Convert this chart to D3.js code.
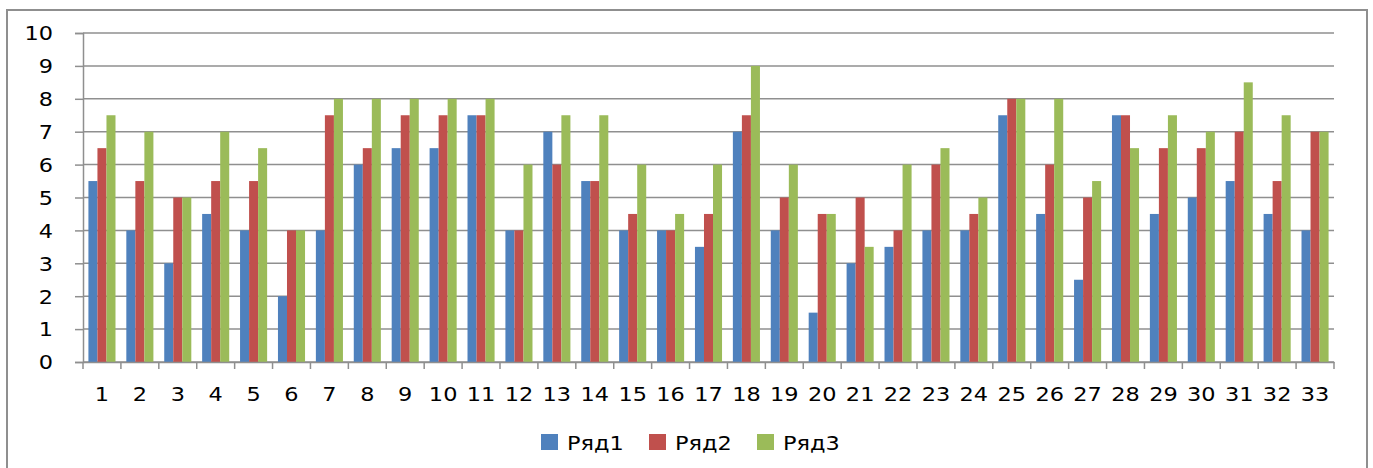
<!DOCTYPE html>
<html>
<head>
<meta charset="utf-8">
<script src="https://cdn.jsdelivr.net/npm/d3@7"></script>
<style>
  body { margin: 0; background: #fff; }
  svg { display: block; }
  .axis text { font-family: "DejaVu Sans", sans-serif; font-size: 19px; fill: #000; }
  .legend-text { font-family: "DejaVu Sans", sans-serif; font-size: 19px; fill: #000; }
</style>
</head>
<body>
<div id="chart"></div>
<script>
// data
let categories = d3.range(1, 34).map(String)
let seriesNames = ["Ряд1", "Ряд2", "Ряд3"]
let row1 = [5.5, 4, 3, 4.5, 4, 2, 4, 6, 6.5, 6.5, 7.5, 4, 7, 5.5, 4, 4, 3.5, 7, 4, 1.5, 3, 3.5, 4, 4, 7.5, 4.5, 2.5, 7.5, 4.5, 5, 5.5, 4.5, 4]
let row2 = [6.5, 5.5, 5, 5.5, 5.5, 4, 7.5, 6.5, 7.5, 7.5, 7.5, 4, 6, 5.5, 4.5, 4, 4.5, 7.5, 5, 4.5, 5, 4, 6, 4.5, 8, 6, 5, 7.5, 6.5, 6.5, 7, 5.5, 7]
let row3 = [7.5, 7, 5, 7, 6.5, 4, 8, 8, 8, 8, 8, 6, 7.5, 7.5, 6, 4.5, 6, 9, 6, 4.5, 3.5, 6, 6.5, 5, 8, 8, 5.5, 6.5, 7.5, 7, 8.5, 7.5, 7]
let yTicks = [0, 1, 2, 3, 4, 5, 6, 7, 8, 9, 10]
let colors = ["#4f81bd", "#c0504d", "#9bbb59"]

let width = 1373, height = 468
let margin = {top: 33, right: 39, bottom: 106, left: 83}
let stretch = 1.18

let svg = d3.select("#chart").append("svg")
    .attr("width", width)
    .attr("height", height)

// outer frame (bottom edge runs off the picture)
svg.append("path")
    .attr("d", `M7,${height + 5} L7,10 L1367,10 L1367,${height + 5}`)
    .attr("fill", "none")
    .attr("stroke", "#8f8f8f")
    .attr("stroke-width", 2)

let x = d3.scaleBand()
    .domain(categories)
    .range([margin.left, width - margin.right])

let y = d3.scaleLinear()
    .domain([0, 10])
    .range([height - margin.bottom, margin.top])

let bw = x.bandwidth() / 4.2
let xs = d3.scaleBand().domain(seriesNames).range([0, bw * 3])

// gridlines
svg.append("g")
    .selectAll("line")
    .data(yTicks)
    .join("line")
    .attr("x1", margin.left)
    .attr("x2", width - margin.right)
    .attr("y1", d => y(d))
    .attr("y2", d => y(d))
    .attr("stroke", "#8f8f8f")
    .attr("stroke-width", 1.5)

// bars
let rows = [row1, row2, row3]
let barData = []
categories.forEach((c, i) => {
    seriesNames.forEach((s, j) => {
        barData.push({cat: c, series: s, value: rows[j][i], color: colors[j]})
    })
})

svg.append("g")
    .selectAll("rect")
    .data(barData)
    .join("rect")
    .attr("x", d => x(d.cat) + (x.bandwidth() - bw * 3) / 2 + xs(d.series))
    .attr("y", d => y(d.value))
    .attr("width", xs.bandwidth())
    .attr("height", d => y(0) - y(d.value))
    .attr("fill", d => d.color)

// y axis
let yAxis = svg.append("g")
    .attr("class", "axis y-axis")
    .attr("transform", `translate(${margin.left},0)`)
    .call(d3.axisLeft(y).tickValues(yTicks).tickSize(8).tickPadding(0))
yAxis.select(".domain").attr("stroke", "#8f8f8f").attr("stroke-width", 1.5)
yAxis.selectAll(".tick line").attr("stroke", "#8f8f8f").attr("stroke-width", 1.5)
yAxis.selectAll(".tick text")
    .attr("x", 0)
    .attr("dy", "0.36em")
    .attr("transform", `translate(-30,0) scale(${stretch},1)`)

// x axis
let xAxis = svg.append("g")
    .attr("class", "axis x-axis")
    .attr("transform", `translate(0,${y(0)})`)
    .call(d3.axisBottom(x).tickSize(0).tickPadding(0))
xAxis.select(".domain").attr("stroke", "#8f8f8f").attr("stroke-width", 1.5)
xAxis.selectAll(".tick text")
    .attr("y", 0)
    .attr("dy", 0)
    .attr("transform", `translate(0,39) scale(${stretch},1)`)

// x tick marks sit between categories
let bounds = categories.map(c => x(c)).concat([x(categories[categories.length - 1]) + x.bandwidth()])
xAxis.append("g")
    .selectAll("line")
    .data(bounds)
    .join("line")
    .attr("x1", d => d)
    .attr("x2", d => d)
    .attr("y1", 0)
    .attr("y2", 7)
    .attr("stroke", "#8f8f8f")
    .attr("stroke-width", 1.5)

// legend
let legend = svg.append("g").attr("class", "legend")
let items = legend.selectAll("g")
    .data(seriesNames)
    .join("g")
    .attr("transform", (d, i) => `translate(${541 + i * 108},434)`)
items.append("rect")
    .attr("width", 17)
    .attr("height", 16)
    .attr("fill", (d, i) => colors[i])
items.append("text")
    .attr("class", "legend-text")
    .attr("transform", `translate(26,16) scale(${stretch},1)`)
    .text(d => d)
</script>
</body>
</html>
